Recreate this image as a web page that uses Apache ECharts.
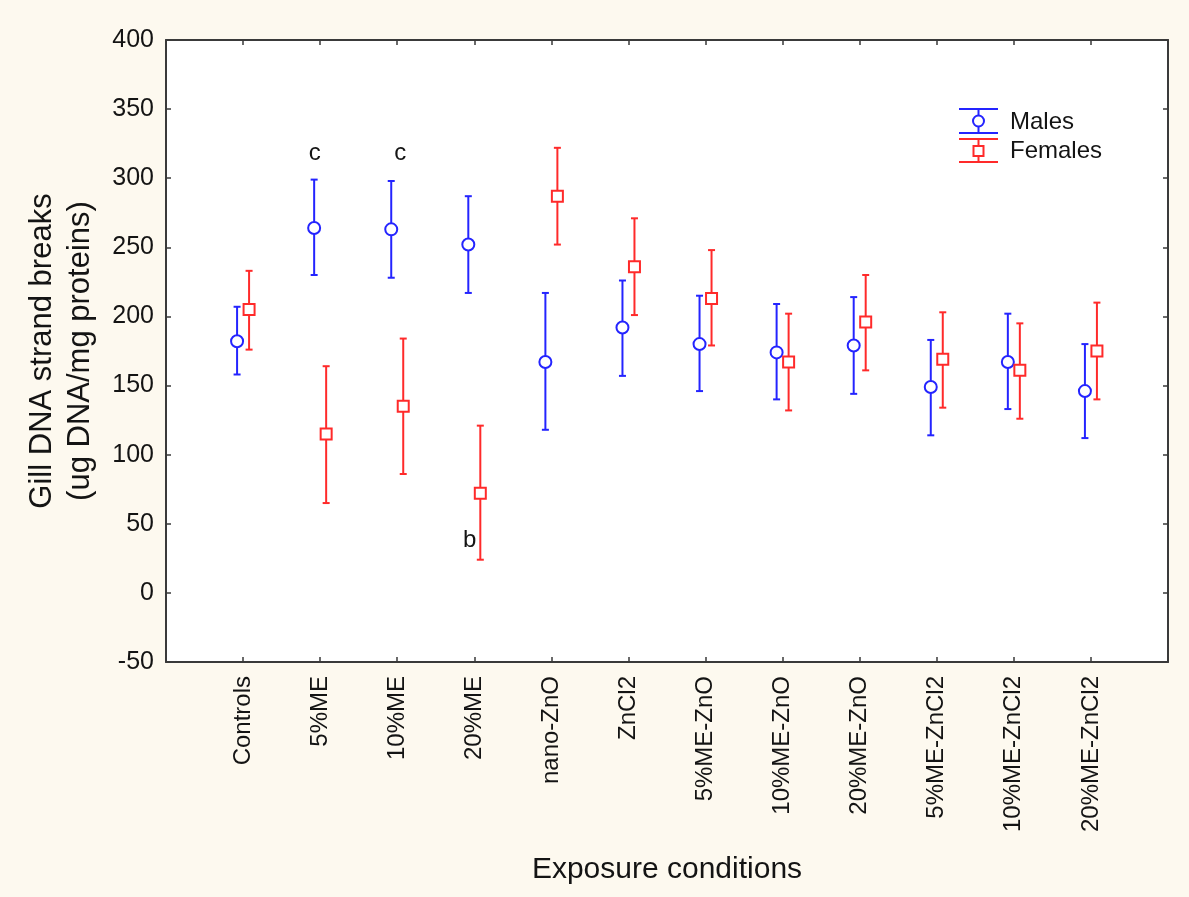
<!DOCTYPE html>
<html>
<head>
<meta charset="utf-8">
<script src="https://cdn.jsdelivr.net/npm/echarts@6/dist/echarts.min.js"></script>
<style>
  html, body { margin: 0; padding: 0; background: #fdf9ef; }
  #chart { width: 1189px; height: 897px; }
</style>
</head>
<body>
<div id="chart"></div>
<script>
// exposure groups
var categories = ['Controls', '5%ME', '10%ME', '20%ME', 'nano-ZnO', 'ZnCl2',
  '5%ME-ZnO', '10%ME-ZnO', '20%ME-ZnO', '5%ME-ZnCl2', '10%ME-ZnCl2', '20%ME-ZnCl2'];

// males: mean and error bar ends
var maleMean = [182, 264, 263, 252, 167, 192, 180, 174, 179, 149, 167, 146];
var maleLow  = [158, 230, 228, 217, 118, 157, 146, 140, 144, 114, 133, 112];
var maleHigh = [207, 299, 298, 287, 217, 226, 215, 209, 214, 183, 202, 180];

// females
var femaleMean = [205, 115, 135, 72, 287, 236, 213, 167, 196, 169, 161, 175];
var femaleLow  = [176, 65, 86, 24, 252, 201, 179, 132, 161, 134, 126, 140];
var femaleHigh = [233, 164, 184, 121, 322, 271, 248, 202, 230, 203, 195, 210];

// letters over the groups
var annotX = [1.93, 3.04, 3.94];
var annotY = [318, 318, 38];
var annotText = ['c', 'c', 'b'];

var FONT = 'Liberation Sans, Arial, sans-serif';
var BLUE = '#2424ff';
var RED = '#ff2a2a';
var AXIS = '#3a3a3a';
var TEXT = '#141414';

function barData(low, high) {
  return low.map(function (v, i) { return [i + 1, v, high[i]]; });
}
function pointData(mean) {
  return mean.map(function (v, i) { return [i + 1, v]; });
}

// error bar with caps, shifted a few px off the category position
function errorBars(offset, color) {
  return function (params, api) {
    var lo = api.coord([api.value(0), api.value(1)]);
    var hi = api.coord([api.value(0), api.value(2)]);
    var x = lo[0] + offset;
    var st = { stroke: color, lineWidth: 2 };
    return {
      type: 'group',
      children: [
        { type: 'line', shape: { x1: x, y1: hi[1], x2: x, y2: lo[1] }, style: st },
        { type: 'line', shape: { x1: x - 3.5, y1: hi[1], x2: x + 3.5, y2: hi[1] }, style: st },
        { type: 'line', shape: { x1: x - 3.5, y1: lo[1], x2: x + 3.5, y2: lo[1] }, style: st }
      ]
    };
  };
}

function axisCommon() {
  return {
    axisLine: { show: true, onZero: false, lineStyle: { color: AXIS, width: 2 } },
    axisTick: { show: true, inside: true, length: 5, lineStyle: { color: AXIS, width: 1.5 } },
    splitLine: { show: false }
  };
}

var option = {
  backgroundColor: '#fdf9ef',
  animation: false,
  grid: { left: 166, right: 21, top: 40, bottom: 235, show: true, backgroundColor: '#ffffff', borderWidth: 0 },
  xAxis: [
    Object.assign(axisCommon(), {
      type: 'value', min: 0, max: 13, interval: 1, position: 'bottom',
      axisLabel: {
        rotate: 90, fontSize: 24, color: TEXT, fontFamily: FONT, margin: 14,
        formatter: function (v) { return categories[v - 1] || ''; }
      },
      name: 'Exposure conditions', nameLocation: 'middle', nameGap: 193,
      nameTextStyle: { fontSize: 30, color: TEXT, fontFamily: FONT }
    }),
    Object.assign(axisCommon(), {
      type: 'value', min: 0, max: 13, interval: 1, position: 'top',
      axisLabel: { show: false }
    })
  ],
  yAxis: [
    Object.assign(axisCommon(), {
      type: 'value', min: -50, max: 400, interval: 50, position: 'left',
      axisLabel: { fontSize: 25, color: TEXT, fontFamily: FONT, margin: 12 },
      name: 'Gill DNA strand breaks\n(ug DNA/mg proteins)', nameLocation: 'middle', nameGap: 67,
      nameTextStyle: { fontSize: 31, lineHeight: 38, color: TEXT, fontFamily: FONT }
    }),
    Object.assign(axisCommon(), {
      type: 'value', min: -50, max: 400, interval: 50, position: 'right',
      axisLabel: { show: false }
    })
  ],
  series: [
    {
      type: 'custom', name: 'Males', renderItem: errorBars(-6, BLUE),
      data: barData(maleLow, maleHigh), z: 2
    },
    {
      type: 'custom', name: 'Females', renderItem: errorBars(6, RED),
      data: barData(femaleLow, femaleHigh), z: 2
    },
    {
      type: 'scatter', name: 'Males', symbol: 'circle', symbolSize: 12, symbolOffset: [-6, 0],
      itemStyle: { color: '#fff', borderColor: BLUE, borderWidth: 2, opacity: 1 },
      data: pointData(maleMean), z: 3
    },
    {
      type: 'scatter', name: 'Females', symbol: 'rect', symbolSize: 11, symbolOffset: [6, 0],
      itemStyle: { color: '#fff', borderColor: RED, borderWidth: 2, opacity: 1 },
      data: pointData(femaleMean), z: 3
    },
    {
      type: 'custom', silent: true, z: 4,
      data: annotX.map(function (x, i) { return [x, annotY[i], i]; }),
      renderItem: function (params, api) {
        var p = api.coord([api.value(0), api.value(1)]);
        return {
          type: 'text', x: p[0], y: p[1],
          style: {
            text: annotText[api.value(2)], fontSize: 24, fontFamily: FONT, fill: TEXT,
            align: 'center', verticalAlign: 'middle'
          }
        };
      }
    }
  ],
  graphic: [
    // legend: Males
    { type: 'line', shape: { x1: 959, y1: 109, x2: 998, y2: 109 }, style: { stroke: BLUE, lineWidth: 2 } },
    { type: 'line', shape: { x1: 959, y1: 133, x2: 998, y2: 133 }, style: { stroke: BLUE, lineWidth: 2 } },
    { type: 'line', shape: { x1: 978.5, y1: 109, x2: 978.5, y2: 133 }, style: { stroke: BLUE, lineWidth: 2 } },
    { type: 'circle', shape: { cx: 978.5, cy: 121, r: 5.5 }, style: { fill: '#fff', stroke: BLUE, lineWidth: 2 } },
    { type: 'text', x: 1010, y: 122, style: { text: 'Males', fontSize: 24, fontFamily: FONT, fill: TEXT, verticalAlign: 'middle' } },
    // legend: Females
    { type: 'line', shape: { x1: 959, y1: 139, x2: 998, y2: 139 }, style: { stroke: RED, lineWidth: 2 } },
    { type: 'line', shape: { x1: 959, y1: 162, x2: 998, y2: 162 }, style: { stroke: RED, lineWidth: 2 } },
    { type: 'line', shape: { x1: 978.5, y1: 139, x2: 978.5, y2: 162 }, style: { stroke: RED, lineWidth: 2 } },
    { type: 'rect', shape: { x: 973.5, y: 146, width: 10, height: 10 }, style: { fill: '#fff', stroke: RED, lineWidth: 2 } },
    { type: 'text', x: 1010, y: 151, style: { text: 'Females', fontSize: 24, fontFamily: FONT, fill: TEXT, verticalAlign: 'middle' } }
  ]
};

var myChart = echarts.init(document.getElementById('chart'));
myChart.setOption(option);
</script>
</body>
</html>
